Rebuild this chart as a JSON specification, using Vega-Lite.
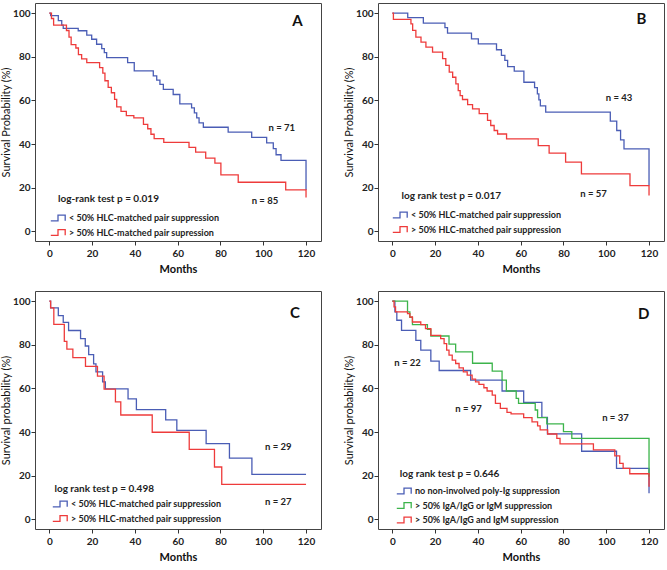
{
  "$schema": "https://vega.github.io/schema/vega-lite/v6.json",
  "padding": {"left": 0, "top": 2, "right": 0, "bottom": 0},
  "background": "white",
  "datasets": {
    "A": [
      {"t":0,"s":100,"g":"< 50% HLC-matched pair suppression"},{"t":0.6,"s":98.8,"g":"< 50% HLC-matched pair suppression"},{"t":4.2,"s":96.5,"g":"< 50% HLC-matched pair suppression"},{"t":5.8,"s":94.5,"g":"< 50% HLC-matched pair suppression"},{"t":6.5,"s":93,"g":"< 50% HLC-matched pair suppression"},{"t":13.5,"s":91.9,"g":"< 50% HLC-matched pair suppression"},{"t":17.5,"s":89.9,"g":"< 50% HLC-matched pair suppression"},{"t":19.8,"s":88,"g":"< 50% HLC-matched pair suppression"},{"t":22.1,"s":85.7,"g":"< 50% HLC-matched pair suppression"},{"t":24.5,"s":83.7,"g":"< 50% HLC-matched pair suppression"},{"t":25.7,"s":81.9,"g":"< 50% HLC-matched pair suppression"},{"t":26.8,"s":79.6,"g":"< 50% HLC-matched pair suppression"},{"t":36.6,"s":77.3,"g":"< 50% HLC-matched pair suppression"},{"t":39.7,"s":73.5,"g":"< 50% HLC-matched pair suppression"},{"t":48.6,"s":71.2,"g":"< 50% HLC-matched pair suppression"},{"t":50.2,"s":69.3,"g":"< 50% HLC-matched pair suppression"},{"t":51.7,"s":67.3,"g":"< 50% HLC-matched pair suppression"},{"t":53.3,"s":65,"g":"< 50% HLC-matched pair suppression"},{"t":57.9,"s":62.7,"g":"< 50% HLC-matched pair suppression"},{"t":61,"s":58.4,"g":"< 50% HLC-matched pair suppression"},{"t":66.5,"s":56.6,"g":"< 50% HLC-matched pair suppression"},{"t":67.8,"s":54.3,"g":"< 50% HLC-matched pair suppression"},{"t":68.9,"s":52,"g":"< 50% HLC-matched pair suppression"},{"t":70,"s":49.7,"g":"< 50% HLC-matched pair suppression"},{"t":72,"s":47.7,"g":"< 50% HLC-matched pair suppression"},{"t":83.6,"s":45.5,"g":"< 50% HLC-matched pair suppression"},{"t":94.6,"s":43.1,"g":"< 50% HLC-matched pair suppression"},{"t":101.6,"s":40.5,"g":"< 50% HLC-matched pair suppression"},{"t":104.7,"s":37.9,"g":"< 50% HLC-matched pair suppression"},{"t":106,"s":35.1,"g":"< 50% HLC-matched pair suppression"},{"t":108.3,"s":32.5,"g":"< 50% HLC-matched pair suppression"},{"t":120,"s":19,"g":"< 50% HLC-matched pair suppression"},
      {"t":0,"s":100,"g":"> 50% HLC-matched pair supression"},{"t":1,"s":97.5,"g":"> 50% HLC-matched pair supression"},{"t":2,"s":94.5,"g":"> 50% HLC-matched pair supression"},{"t":8,"s":92,"g":"> 50% HLC-matched pair supression"},{"t":9.2,"s":89,"g":"> 50% HLC-matched pair supression"},{"t":10.2,"s":85.5,"g":"> 50% HLC-matched pair supression"},{"t":12.4,"s":84,"g":"> 50% HLC-matched pair supression"},{"t":13.6,"s":81,"g":"> 50% HLC-matched pair supression"},{"t":15.1,"s":79,"g":"> 50% HLC-matched pair supression"},{"t":17.5,"s":77.3,"g":"> 50% HLC-matched pair supression"},{"t":23.5,"s":75,"g":"> 50% HLC-matched pair supression"},{"t":25,"s":72.5,"g":"> 50% HLC-matched pair supression"},{"t":26,"s":69,"g":"> 50% HLC-matched pair supression"},{"t":27.5,"s":66,"g":"> 50% HLC-matched pair supression"},{"t":29,"s":63.5,"g":"> 50% HLC-matched pair supression"},{"t":30.5,"s":60.5,"g":"> 50% HLC-matched pair supression"},{"t":31.5,"s":57,"g":"> 50% HLC-matched pair supression"},{"t":33.5,"s":55,"g":"> 50% HLC-matched pair supression"},{"t":36,"s":53,"g":"> 50% HLC-matched pair supression"},{"t":39.5,"s":52,"g":"> 50% HLC-matched pair supression"},{"t":44,"s":49,"g":"> 50% HLC-matched pair supression"},{"t":46,"s":47,"g":"> 50% HLC-matched pair supression"},{"t":47.5,"s":44.5,"g":"> 50% HLC-matched pair supression"},{"t":49,"s":42.5,"g":"> 50% HLC-matched pair supression"},{"t":53.5,"s":40.8,"g":"> 50% HLC-matched pair supression"},{"t":65.3,"s":38.5,"g":"> 50% HLC-matched pair supression"},{"t":68.4,"s":36.3,"g":"> 50% HLC-matched pair supression"},{"t":73.1,"s":33.6,"g":"> 50% HLC-matched pair supression"},{"t":77.4,"s":31.3,"g":"> 50% HLC-matched pair supression"},{"t":80.2,"s":25.9,"g":"> 50% HLC-matched pair supression"},{"t":88.3,"s":22.5,"g":"> 50% HLC-matched pair supression"},{"t":110.5,"s":19,"g":"> 50% HLC-matched pair supression"},{"t":120,"s":15.5,"g":"> 50% HLC-matched pair supression"}
    ],
    "B": [
      {"t":0,"s":100,"g":"< 50% HLC-matched pair suppression"},{"t":7.2,"s":97.9,"g":"< 50% HLC-matched pair suppression"},{"t":14.5,"s":95.4,"g":"< 50% HLC-matched pair suppression"},{"t":24.6,"s":93.3,"g":"< 50% HLC-matched pair suppression"},{"t":25.8,"s":90.8,"g":"< 50% HLC-matched pair suppression"},{"t":37,"s":88.2,"g":"< 50% HLC-matched pair suppression"},{"t":40.2,"s":85.9,"g":"< 50% HLC-matched pair suppression"},{"t":48.7,"s":83.2,"g":"< 50% HLC-matched pair suppression"},{"t":51,"s":80.6,"g":"< 50% HLC-matched pair suppression"},{"t":52.6,"s":78.3,"g":"< 50% HLC-matched pair suppression"},{"t":53.9,"s":75.5,"g":"< 50% HLC-matched pair suppression"},{"t":57,"s":73.4,"g":"< 50% HLC-matched pair suppression"},{"t":61.5,"s":68.3,"g":"< 50% HLC-matched pair suppression"},{"t":66.5,"s":65.8,"g":"< 50% HLC-matched pair suppression"},{"t":67.8,"s":63,"g":"< 50% HLC-matched pair suppression"},{"t":68.5,"s":60.2,"g":"< 50% HLC-matched pair suppression"},{"t":69.2,"s":57.5,"g":"< 50% HLC-matched pair suppression"},{"t":71.7,"s":54.6,"g":"< 50% HLC-matched pair suppression"},{"t":101.9,"s":50.5,"g":"< 50% HLC-matched pair suppression"},{"t":104.9,"s":46.2,"g":"< 50% HLC-matched pair suppression"},{"t":106.7,"s":41.9,"g":"< 50% HLC-matched pair suppression"},{"t":108.3,"s":37.8,"g":"< 50% HLC-matched pair suppression"},{"t":120,"s":21,"g":"< 50% HLC-matched pair suppression"},
      {"t":0,"s":100,"g":"> 50% HLC-matched pair suppression"},{"t":0.5,"s":97.1,"g":"> 50% HLC-matched pair suppression"},{"t":8.7,"s":95,"g":"> 50% HLC-matched pair suppression"},{"t":9.5,"s":92.1,"g":"> 50% HLC-matched pair suppression"},{"t":11,"s":89,"g":"> 50% HLC-matched pair suppression"},{"t":13.4,"s":86.7,"g":"> 50% HLC-matched pair suppression"},{"t":15.7,"s":84.4,"g":"> 50% HLC-matched pair suppression"},{"t":18.8,"s":82.1,"g":"> 50% HLC-matched pair suppression"},{"t":23.5,"s":79.1,"g":"> 50% HLC-matched pair suppression"},{"t":25,"s":76,"g":"> 50% HLC-matched pair suppression"},{"t":26.6,"s":72.9,"g":"> 50% HLC-matched pair suppression"},{"t":28.2,"s":70.6,"g":"> 50% HLC-matched pair suppression"},{"t":29.7,"s":67.6,"g":"> 50% HLC-matched pair suppression"},{"t":30.8,"s":64.5,"g":"> 50% HLC-matched pair suppression"},{"t":31.7,"s":62.2,"g":"> 50% HLC-matched pair suppression"},{"t":32.8,"s":60.4,"g":"> 50% HLC-matched pair suppression"},{"t":35.2,"s":58.1,"g":"> 50% HLC-matched pair suppression"},{"t":37.5,"s":56.1,"g":"> 50% HLC-matched pair suppression"},{"t":40.6,"s":53.9,"g":"> 50% HLC-matched pair suppression"},{"t":44.5,"s":50.8,"g":"> 50% HLC-matched pair suppression"},{"t":46,"s":48.5,"g":"> 50% HLC-matched pair suppression"},{"t":47.6,"s":46.2,"g":"> 50% HLC-matched pair suppression"},{"t":49.2,"s":44.6,"g":"> 50% HLC-matched pair suppression"},{"t":53.4,"s":42.4,"g":"> 50% HLC-matched pair suppression"},{"t":68.2,"s":39.3,"g":"> 50% HLC-matched pair suppression"},{"t":73.3,"s":35.8,"g":"> 50% HLC-matched pair suppression"},{"t":81,"s":31.7,"g":"> 50% HLC-matched pair suppression"},{"t":88.4,"s":26.3,"g":"> 50% HLC-matched pair suppression"},{"t":111.1,"s":21,"g":"> 50% HLC-matched pair suppression"},{"t":120,"s":16.4,"g":"> 50% HLC-matched pair suppression"}
    ],
    "C": [
      {"t":0,"s":100,"g":"< 50% HLC-matched pair suppression"},{"t":0.6,"s":96.9,"g":"< 50% HLC-matched pair suppression"},{"t":4.2,"s":93.3,"g":"< 50% HLC-matched pair suppression"},{"t":6.5,"s":90.2,"g":"< 50% HLC-matched pair suppression"},{"t":9,"s":86.5,"g":"< 50% HLC-matched pair suppression"},{"t":14.6,"s":82.8,"g":"< 50% HLC-matched pair suppression"},{"t":16.8,"s":79.4,"g":"< 50% HLC-matched pair suppression"},{"t":18.4,"s":75.5,"g":"< 50% HLC-matched pair suppression"},{"t":20.7,"s":71.2,"g":"< 50% HLC-matched pair suppression"},{"t":21.8,"s":67.6,"g":"< 50% HLC-matched pair suppression"},{"t":24.9,"s":63,"g":"< 50% HLC-matched pair suppression"},{"t":26.2,"s":59.8,"g":"< 50% HLC-matched pair suppression"},{"t":36.8,"s":55.2,"g":"< 50% HLC-matched pair suppression"},{"t":40.7,"s":50.3,"g":"< 50% HLC-matched pair suppression"},{"t":54.4,"s":45.6,"g":"< 50% HLC-matched pair suppression"},{"t":59.6,"s":40.8,"g":"< 50% HLC-matched pair suppression"},{"t":73.3,"s":34.7,"g":"< 50% HLC-matched pair suppression"},{"t":84.2,"s":28.1,"g":"< 50% HLC-matched pair suppression"},{"t":94.7,"s":20.6,"g":"< 50% HLC-matched pair suppression"},{"t":120,"s":20.6,"g":"< 50% HLC-matched pair suppression"},
      {"t":0,"s":100,"g":"> 50% HLC-matched pair suppression"},{"t":0.6,"s":96.9,"g":"> 50% HLC-matched pair suppression"},{"t":2.1,"s":89.3,"g":"> 50% HLC-matched pair suppression"},{"t":7,"s":81.5,"g":"> 50% HLC-matched pair suppression"},{"t":8.2,"s":78,"g":"> 50% HLC-matched pair suppression"},{"t":11,"s":74.1,"g":"> 50% HLC-matched pair suppression"},{"t":16.9,"s":70.1,"g":"> 50% HLC-matched pair suppression"},{"t":22.5,"s":65.6,"g":"> 50% HLC-matched pair suppression"},{"t":25.6,"s":59.7,"g":"> 50% HLC-matched pair suppression"},{"t":30.9,"s":53.8,"g":"> 50% HLC-matched pair suppression"},{"t":33.4,"s":47.8,"g":"> 50% HLC-matched pair suppression"},{"t":48.1,"s":39.9,"g":"> 50% HLC-matched pair suppression"},{"t":65.4,"s":32.1,"g":"> 50% HLC-matched pair suppression"},{"t":77.2,"s":24,"g":"> 50% HLC-matched pair suppression"},{"t":80.6,"s":16,"g":"> 50% HLC-matched pair suppression"},{"t":120,"s":16,"g":"> 50% HLC-matched pair suppression"}
    ],
    "D": [
      {"t":0,"s":100,"g":"no non-involved poly-Ig suppression"},{"t":1.2,"s":95,"g":"no non-involved poly-Ig suppression"},{"t":2.1,"s":91.2,"g":"no non-involved poly-Ig suppression"},{"t":4.3,"s":86.6,"g":"no non-involved poly-Ig suppression"},{"t":11,"s":82,"g":"no non-involved poly-Ig suppression"},{"t":13.3,"s":77.5,"g":"no non-involved poly-Ig suppression"},{"t":18,"s":72.5,"g":"no non-involved poly-Ig suppression"},{"t":21.9,"s":68.2,"g":"no non-involved poly-Ig suppression"},{"t":36.6,"s":63.8,"g":"no non-involved poly-Ig suppression"},{"t":51.3,"s":58.8,"g":"no non-involved poly-Ig suppression"},{"t":61.4,"s":53.6,"g":"no non-involved poly-Ig suppression"},{"t":69.9,"s":46.7,"g":"no non-involved poly-Ig suppression"},{"t":72.5,"s":39.2,"g":"no non-involved poly-Ig suppression"},{"t":88.5,"s":31.2,"g":"no non-involved poly-Ig suppression"},{"t":104.8,"s":23.4,"g":"no non-involved poly-Ig suppression"},{"t":120,"s":12,"g":"no non-involved poly-Ig suppression"},
      {"t":0,"s":100,"g":"> 50% IgA/IgG or IgM suppression"},{"t":7.1,"s":95,"g":"> 50% IgA/IgG or IgM suppression"},{"t":8.2,"s":92.5,"g":"> 50% IgA/IgG or IgM suppression"},{"t":9.4,"s":89.2,"g":"> 50% IgA/IgG or IgM suppression"},{"t":16.4,"s":87,"g":"> 50% IgA/IgG or IgM suppression"},{"t":18,"s":84,"g":"> 50% IgA/IgG or IgM suppression"},{"t":26.5,"s":80.3,"g":"> 50% IgA/IgG or IgM suppression"},{"t":29.6,"s":76.7,"g":"> 50% IgA/IgG or IgM suppression"},{"t":37.5,"s":71.5,"g":"> 50% IgA/IgG or IgM suppression"},{"t":46.7,"s":67.9,"g":"> 50% IgA/IgG or IgM suppression"},{"t":51.3,"s":63.8,"g":"> 50% IgA/IgG or IgM suppression"},{"t":53.3,"s":58.8,"g":"> 50% IgA/IgG or IgM suppression"},{"t":57.9,"s":55.4,"g":"> 50% IgA/IgG or IgM suppression"},{"t":59,"s":53.1,"g":"> 50% IgA/IgG or IgM suppression"},{"t":66.8,"s":50.1,"g":"> 50% IgA/IgG or IgM suppression"},{"t":67.9,"s":46.6,"g":"> 50% IgA/IgG or IgM suppression"},{"t":72.2,"s":43.7,"g":"> 50% IgA/IgG or IgM suppression"},{"t":80,"s":40.2,"g":"> 50% IgA/IgG or IgM suppression"},{"t":83.9,"s":37.1,"g":"> 50% IgA/IgG or IgM suppression"},{"t":120,"s":19.5,"g":"> 50% IgA/IgG or IgM suppression"},
      {"t":0,"s":100,"g":"> 50% IgA/IgG and IgM suppression"},{"t":0.8,"s":97.3,"g":"> 50% IgA/IgG and IgM suppression"},{"t":1.5,"s":95,"g":"> 50% IgA/IgG and IgM suppression"},{"t":7.1,"s":94.2,"g":"> 50% IgA/IgG and IgM suppression"},{"t":8.2,"s":92.7,"g":"> 50% IgA/IgG and IgM suppression"},{"t":9.4,"s":90.4,"g":"> 50% IgA/IgG and IgM suppression"},{"t":13.3,"s":89.2,"g":"> 50% IgA/IgG and IgM suppression"},{"t":15.5,"s":87.4,"g":"> 50% IgA/IgG and IgM suppression"},{"t":18,"s":84.3,"g":"> 50% IgA/IgG and IgM suppression"},{"t":22.6,"s":82.8,"g":"> 50% IgA/IgG and IgM suppression"},{"t":24.2,"s":80.5,"g":"> 50% IgA/IgG and IgM suppression"},{"t":25.4,"s":77.5,"g":"> 50% IgA/IgG and IgM suppression"},{"t":26.5,"s":75.2,"g":"> 50% IgA/IgG and IgM suppression"},{"t":28,"s":72.9,"g":"> 50% IgA/IgG and IgM suppression"},{"t":29.6,"s":71.4,"g":"> 50% IgA/IgG and IgM suppression"},{"t":31.2,"s":69.4,"g":"> 50% IgA/IgG and IgM suppression"},{"t":33.2,"s":67.6,"g":"> 50% IgA/IgG and IgM suppression"},{"t":35,"s":66.1,"g":"> 50% IgA/IgG and IgM suppression"},{"t":37.3,"s":64.2,"g":"> 50% IgA/IgG and IgM suppression"},{"t":38.9,"s":63,"g":"> 50% IgA/IgG and IgM suppression"},{"t":40.5,"s":61.8,"g":"> 50% IgA/IgG and IgM suppression"},{"t":42.8,"s":60.3,"g":"> 50% IgA/IgG and IgM suppression"},{"t":44.3,"s":58.8,"g":"> 50% IgA/IgG and IgM suppression"},{"t":46.7,"s":56.9,"g":"> 50% IgA/IgG and IgM suppression"},{"t":48.2,"s":53.1,"g":"> 50% IgA/IgG and IgM suppression"},{"t":50.5,"s":50.8,"g":"> 50% IgA/IgG and IgM suppression"},{"t":53.6,"s":49,"g":"> 50% IgA/IgG and IgM suppression"},{"t":55.5,"s":48.3,"g":"> 50% IgA/IgG and IgM suppression"},{"t":61.4,"s":46.6,"g":"> 50% IgA/IgG and IgM suppression"},{"t":65.3,"s":44.7,"g":"> 50% IgA/IgG and IgM suppression"},{"t":67.9,"s":42.8,"g":"> 50% IgA/IgG and IgM suppression"},{"t":69.1,"s":41,"g":"> 50% IgA/IgG and IgM suppression"},{"t":72.6,"s":39.1,"g":"> 50% IgA/IgG and IgM suppression"},{"t":76.9,"s":37.1,"g":"> 50% IgA/IgG and IgM suppression"},{"t":78.4,"s":34.6,"g":"> 50% IgA/IgG and IgM suppression"},{"t":94,"s":31.8,"g":"> 50% IgA/IgG and IgM suppression"},{"t":104,"s":29.1,"g":"> 50% IgA/IgG and IgM suppression"},{"t":106.3,"s":25.7,"g":"> 50% IgA/IgG and IgM suppression"},{"t":107.9,"s":23.4,"g":"> 50% IgA/IgG and IgM suppression"},{"t":111,"s":20.9,"g":"> 50% IgA/IgG and IgM suppression"},{"t":120,"s":15,"g":"> 50% IgA/IgG and IgM suppression"}
    ]
  },
  "resolve": {"scale": {"color": "independent"}, "legend": {"color": "independent"}},
  "spacing": 15,
  "vconcat": [
    {
      "spacing": 21,
      "resolve": {"scale": {"color": "independent"}, "legend": {"color": "independent"}},
      "hconcat": [
        {
          "width": 286, "height": 238,
          "layer": [
            {
              "data": {"name": "A"},
              "mark": {"type": "line", "interpolate": "step-after", "strokeWidth": 1.3},
              "encoding": {
                "x": {"field": "t", "type": "quantitative", "scale": {"domain": [-6.7, 127], "nice": false, "zero": false}, "axis": {"values": [0, 20, 40, 60, 80, 100, 120], "title": "Months"}},
                "y": {"field": "s", "type": "quantitative", "scale": {"domain": [-4.4, 104.6], "nice": false, "zero": false}, "axis": {"values": [0, 20, 40, 60, 80, 100], "title": "Survival Probability (%)"}},
                "color": {"field": "g", "type": "nominal", "scale": {"domain": ["< 50% HLC-matched pair suppression", "> 50% HLC-matched pair supression"], "range": ["#4a5db5", "#ee3b3b"]}, "legend": {"title": null, "legendX": 22, "legendY": 210}}
              }
            },
            {
              "data": {"values": [{"t": 108.7, "s": 47.2, "label": "n = 71"}, {"t": 100.8, "s": 13.7, "label": "n = 85"}]},
              "mark": {"type": "text", "fontWeight": "bold", "fontSize": 9.5, "color": "#222"},
              "encoding": {"x": {"field": "t", "type": "quantitative"}, "y": {"field": "s", "type": "quantitative"}, "text": {"field": "label"}}
            },
            {
              "data": {"values": [{"t": 4.1, "s": 15, "label": "log-rank test p = 0.019"}]},
              "mark": {"type": "text", "align": "left", "fontWeight": "bold", "fontSize": 10, "color": "#222"},
              "encoding": {"x": {"field": "t", "type": "quantitative"}, "y": {"field": "s", "type": "quantitative"}, "text": {"field": "label"}}
            },
            {
              "data": {"values": [{"t": 116, "s": 96.5, "label": "A"}]},
              "mark": {"type": "text", "fontWeight": "bold", "fontSize": 15, "color": "#111"},
              "encoding": {"x": {"field": "t", "type": "quantitative"}, "y": {"field": "s", "type": "quantitative"}, "text": {"field": "label"}}
            }
          ]
        },
        {
          "width": 286, "height": 238,
          "layer": [
            {
              "data": {"name": "B"},
              "mark": {"type": "line", "interpolate": "step-after", "strokeWidth": 1.3},
              "encoding": {
                "x": {"field": "t", "type": "quantitative", "scale": {"domain": [-6.7, 127], "nice": false, "zero": false}, "axis": {"values": [0, 20, 40, 60, 80, 100, 120], "title": "Months"}},
                "y": {"field": "s", "type": "quantitative", "scale": {"domain": [-4.4, 104.6], "nice": false, "zero": false}, "axis": {"values": [0, 20, 40, 60, 80, 100], "title": "Survival Probability (%)"}},
                "color": {"field": "g", "type": "nominal", "scale": {"domain": ["< 50% HLC-matched pair suppression", "> 50% HLC-matched pair suppression"], "range": ["#4a5db5", "#ee3b3b"]}, "legend": {"title": null, "legendX": 21, "legendY": 207}}
              }
            },
            {
              "data": {"values": [{"t": 106, "s": 60.9, "label": "n = 43"}, {"t": 94.1, "s": 17.3, "label": "n = 57"}]},
              "mark": {"type": "text", "fontWeight": "bold", "fontSize": 9.5, "color": "#222"},
              "encoding": {"x": {"field": "t", "type": "quantitative"}, "y": {"field": "s", "type": "quantitative"}, "text": {"field": "label"}}
            },
            {
              "data": {"values": [{"t": 4.3, "s": 16.3, "label": "log rank test p = 0.017"}]},
              "mark": {"type": "text", "align": "left", "fontWeight": "bold", "fontSize": 10, "color": "#222"},
              "encoding": {"x": {"field": "t", "type": "quantitative"}, "y": {"field": "s", "type": "quantitative"}, "text": {"field": "label"}}
            },
            {
              "data": {"values": [{"t": 116.4, "s": 97.1, "label": "B"}]},
              "mark": {"type": "text", "fontWeight": "bold", "fontSize": 15, "color": "#111"},
              "encoding": {"x": {"field": "t", "type": "quantitative"}, "y": {"field": "s", "type": "quantitative"}, "text": {"field": "label"}}
            }
          ]
        }
      ]
    },
    {
      "spacing": 21,
      "resolve": {"scale": {"color": "independent"}, "legend": {"color": "independent"}},
      "hconcat": [
        {
          "width": 286, "height": 238,
          "layer": [
            {
              "data": {"name": "C"},
              "mark": {"type": "line", "interpolate": "step-after", "strokeWidth": 1.3},
              "encoding": {
                "x": {"field": "t", "type": "quantitative", "scale": {"domain": [-6.7, 127], "nice": false, "zero": false}, "axis": {"values": [0, 20, 40, 60, 80, 100, 120], "title": "Months"}},
                "y": {"field": "s", "type": "quantitative", "scale": {"domain": [-4.4, 104.6], "nice": false, "zero": false}, "axis": {"values": [0, 20, 40, 60, 80, 100], "title": "Survival probability (%)"}},
                "color": {"field": "g", "type": "nominal", "scale": {"domain": ["< 50% HLC-matched pair suppression", "> 50% HLC-matched pair suppression"], "range": ["#4a5db5", "#ee3b3b"]}, "legend": {"title": null, "legendX": 24, "legendY": 208}}
              }
            },
            {
              "data": {"values": [{"t": 107, "s": 33.2, "label": "n = 29"}, {"t": 107, "s": 7.9, "label": "n = 27"}]},
              "mark": {"type": "text", "fontWeight": "bold", "fontSize": 9.5, "color": "#222"},
              "encoding": {"x": {"field": "t", "type": "quantitative"}, "y": {"field": "s", "type": "quantitative"}, "text": {"field": "label"}}
            },
            {
              "data": {"values": [{"t": 2.4, "s": 14, "label": "log rank test p = 0.498"}]},
              "mark": {"type": "text", "align": "left", "fontWeight": "bold", "fontSize": 10, "color": "#222"},
              "encoding": {"x": {"field": "t", "type": "quantitative"}, "y": {"field": "s", "type": "quantitative"}, "text": {"field": "label"}}
            },
            {
              "data": {"values": [{"t": 114.8, "s": 94.3, "label": "C"}]},
              "mark": {"type": "text", "fontWeight": "bold", "fontSize": 15, "color": "#111"},
              "encoding": {"x": {"field": "t", "type": "quantitative"}, "y": {"field": "s", "type": "quantitative"}, "text": {"field": "label"}}
            }
          ]
        },
        {
          "width": 286, "height": 238,
          "layer": [
            {
              "data": {"name": "D"},
              "mark": {"type": "line", "interpolate": "step-after", "strokeWidth": 1.3},
              "encoding": {
                "x": {"field": "t", "type": "quantitative", "scale": {"domain": [-6.7, 127], "nice": false, "zero": false}, "axis": {"values": [0, 20, 40, 60, 80, 100, 120], "title": "Months"}},
                "y": {"field": "s", "type": "quantitative", "scale": {"domain": [-4.4, 104.6], "nice": false, "zero": false}, "axis": {"values": [0, 20, 40, 60, 80, 100], "title": "Survival probability (%)"}},
                "color": {"field": "g", "type": "nominal", "scale": {"domain": ["no non-involved poly-Ig suppression", "> 50% IgA/IgG or IgM suppression", "> 50% IgA/IgG and IgM suppression"], "range": ["#4a5db5", "#3cb44b", "#ee3b3b"]}, "legend": {"title": null, "legendX": 25, "legendY": 195}}
              }
            },
            {
              "data": {"values": [{"t": 7.1, "s": 71.4, "label": "n = 22"}, {"t": 35.6, "s": 50.4, "label": "n = 97"}, {"t": 104.3, "s": 46.3, "label": "n = 37"}]},
              "mark": {"type": "text", "fontWeight": "bold", "fontSize": 9.5, "color": "#222"},
              "encoding": {"x": {"field": "t", "type": "quantitative"}, "y": {"field": "s", "type": "quantitative"}, "text": {"field": "label"}}
            },
            {
              "data": {"values": [{"t": 3.5, "s": 20.7, "label": "log rank test p = 0.646"}]},
              "mark": {"type": "text", "align": "left", "fontWeight": "bold", "fontSize": 10, "color": "#222"},
              "encoding": {"x": {"field": "t", "type": "quantitative"}, "y": {"field": "s", "type": "quantitative"}, "text": {"field": "label"}}
            },
            {
              "data": {"values": [{"t": 117.5, "s": 93.9, "label": "D"}]},
              "mark": {"type": "text", "fontWeight": "bold", "fontSize": 15, "color": "#111"},
              "encoding": {"x": {"field": "t", "type": "quantitative"}, "y": {"field": "s", "type": "quantitative"}, "text": {"field": "label"}}
            }
          ]
        }
      ]
    }
  ],
  "config": {
    "font": "Lato",
    "view": {"stroke": "#444", "strokeWidth": 1},
    "axis": {"grid": false, "domain": false, "tickColor": "#333", "tickSize": 4, "labelFont": "Lato", "labelFontSize": 10, "labelFontWeight": "bold", "labelColor": "#222", "labelPadding": 1, "titleFont": "Lato", "titleColor": "#111"},
    "axisX": {"titleFontSize": 11, "titleFontWeight": "bold", "titlePadding": 5, "labelPadding": 3},
    "axisY": {"titleFontSize": 11, "titleFontWeight": "normal", "titlePadding": 1},
    "legend": {"orient": "none", "symbolType": "M-2.8,0.7H-1V-0.7H0.8V0.7", "symbolSize": 64, "symbolStrokeWidth": 1.3, "symbolFillColor": "transparent", "labelFont": "Lato", "labelFontSize": 9, "labelFontWeight": "bold", "labelColor": "#222", "labelOffset": 2, "rowPadding": 2.5, "padding": 0}
  }
}
